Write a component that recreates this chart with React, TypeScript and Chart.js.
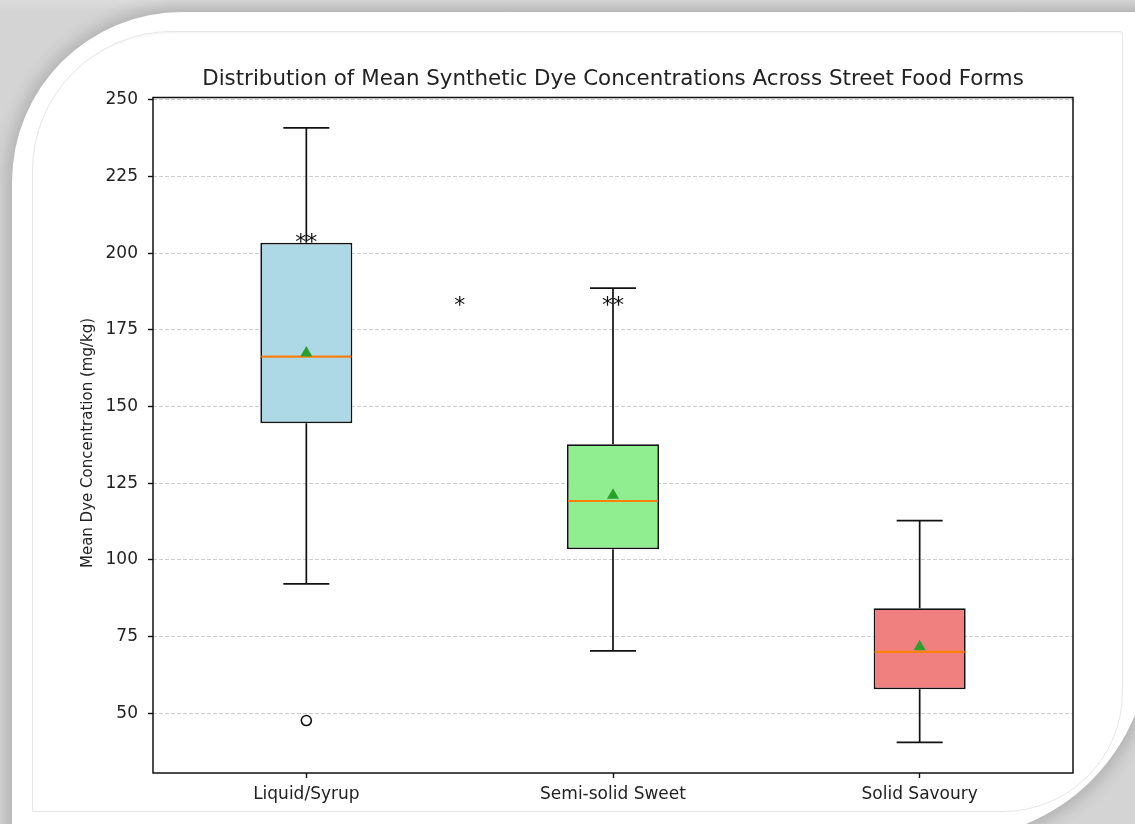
import React, { useEffect, useRef } from 'react';
import { Chart, registerables } from 'chart.js';

Chart.register(...registerables);

const categories = ['Liquid/Syrup', 'Semi-solid Sweet', 'Solid Savoury'];
const whiskerLow = [92.2, 70.3, 40.5];
const q1Values = [144.6, 103.5, 57.8];
const medianValues = [166.3, 119.2, 70.0];
const q3Values = [203.4, 137.7, 84.2];
const whiskerHigh = [240.9, 188.6, 112.8];
const meanValues = [167.5, 121.1, 71.7];
const outlierValues = [47.6, null, null];
const boxColors = ['#add8e6', '#90ee90', '#f08080'];
const yTickValues = [50, 75, 100, 125, 150, 175, 200, 225, 250];
const annotationPositions = [0, 0.5, 1];
const annotationValues = [204.3, 184.0, 184.0];
const annotationTexts = ['**', '*', '**'];
const yMin = 30.5;
const yMax = 250.8;
const chartTitle = 'Distribution of Mean Synthetic Dye Concentrations Across Street Food Forms';
const yAxisTitle = 'Mean Dye Concentration (mg/kg)';

const FONT = "'DejaVu Sans', sans-serif";
const TEXT = '#222';
const LINE_W = 1.7;

const boxPlugin = {
  id: 'boxExtras',
  beforeDatasetsDraw(chart: any) {
    const { ctx, scales } = chart;
    const x = scales.x;
    const y = scales.y;
    const meta = chart.getDatasetMeta(0);
    ctx.save();
    ctx.strokeStyle = '#111';
    ctx.lineWidth = LINE_W;
    categories.forEach((_, i) => {
      const bar = meta.data[i];
      const cx = x.getPixelForValue(i);
      const half = bar.width / 4;
      const segs = [
        [whiskerHigh[i], q3Values[i]],
        [whiskerLow[i], q1Values[i]],
      ];
      segs.forEach(([end, start]) => {
        const pe = y.getPixelForValue(end);
        const ps = y.getPixelForValue(start);
        ctx.beginPath();
        ctx.moveTo(cx, ps);
        ctx.lineTo(cx, pe);
        ctx.moveTo(cx - half, pe);
        ctx.lineTo(cx + half, pe);
        ctx.stroke();
      });
    });
    ctx.restore();
  },
  afterDatasetDraw(chart: any, args: any) {
    if (args.index !== 0) return;
    const { ctx, scales } = chart;
    const y = scales.y;
    const meta = chart.getDatasetMeta(0);
    ctx.save();
    ctx.strokeStyle = '#ff7f0e';
    ctx.lineWidth = 2.2;
    categories.forEach((_, i) => {
      const bar = meta.data[i];
      const py = y.getPixelForValue(medianValues[i]);
      ctx.beginPath();
      ctx.moveTo(bar.x - bar.width / 2 + 1, py);
      ctx.lineTo(bar.x + bar.width / 2 - 1, py);
      ctx.stroke();
    });
    ctx.restore();
  },
  afterDatasetsDraw(chart: any) {
    const { ctx, chartArea, scales } = chart;
    const x = scales.x;
    const y = scales.y;
    ctx.save();
    ctx.strokeStyle = '#111';
    ctx.lineWidth = 1.5;
    ctx.strokeRect(chartArea.left, chartArea.top, chartArea.right - chartArea.left, chartArea.bottom - chartArea.top);

    // significance markers
    ctx.fillStyle = '#111';
    const aSize = 22;
    ctx.font = `${aSize}px ${FONT}`;
    ctx.textAlign = 'center';
    ctx.textBaseline = 'alphabetic';
    annotationTexts.forEach((t, i) => {
      const px = x.getPixelForValue(annotationPositions[i]);
      const py = y.getPixelForValue(annotationValues[i]);
      ctx.fillText(t, px, py + 0.42 * aSize);
    });

    // title centred over the axes
    ctx.fillStyle = TEXT;
    ctx.font = `21.4px ${FONT}`;
    ctx.textBaseline = 'middle';
    ctx.fillText(chartTitle, (chartArea.left + chartArea.right) / 2, 79);

    // y axis label
    ctx.save();
    ctx.translate(88, 443);
    ctx.rotate(-Math.PI / 2);
    ctx.font = `15px ${FONT}`;
    ctx.fillText(yAxisTitle, 0, 0);
    ctx.restore();
    ctx.restore();
  },
};

export default function App() {
  const ref = useRef<HTMLCanvasElement | null>(null);
  useEffect(() => {
    if (!ref.current) return;
    const chart = new Chart(ref.current, {
      type: 'bar',
      data: {
        labels: categories,
        datasets: [
          {
            type: 'bar',
            label: 'IQR',
            data: categories.map((_, i) => [q1Values[i], q3Values[i]]) as any,
            backgroundColor: boxColors,
            borderColor: '#111',
            borderWidth: LINE_W,
            borderSkipped: false,
            barPercentage: 0.3,
            categoryPercentage: 1,
            order: 2,
          } as any,
          {
            type: 'line',
            label: 'Mean',
            data: meanValues,
            showLine: false,
            pointStyle: 'triangle',
            pointRadius: 7,
            pointBackgroundColor: '#2ca02c',
            pointBorderColor: '#2ca02c',
            pointBorderWidth: 0,
            order: 0,
          } as any,
          {
            type: 'line',
            label: 'Outliers',
            data: outlierValues,
            showLine: false,
            pointStyle: 'circle',
            pointRadius: 5,
            pointBackgroundColor: 'rgba(255,255,255,0)',
            pointBorderColor: '#111',
            pointBorderWidth: 1.6,
            order: 0,
          } as any,
        ],
      },
      options: {
        animation: false,
        responsive: false,
        layout: { padding: { left: 75, right: 62, top: 97.5, bottom: 11 } },
        plugins: {
          legend: { display: false },
          tooltip: { enabled: false },
          title: { display: false },
        },
        scales: {
          x: {
            type: 'category',
            offset: true,
            grid: {
              display: true,
              drawOnChartArea: false,
              drawTicks: true,
              tickLength: 5,
              tickColor: '#111',
              tickWidth: 1.4,
              offset: false,
            },
            border: { display: false },
            ticks: { font: { family: FONT, size: 17 }, color: TEXT, padding: 6, maxRotation: 0 },
            afterFit: (s: any) => {
              s.height = 40;
            },
          },
          y: {
            type: 'linear',
            min: yMin,
            max: yMax,
            afterBuildTicks: (s: any) => {
              s.ticks = yTickValues.map((v) => ({ value: v }));
            },
            grid: {
              color: 'rgba(176,176,176,0.65)',
              lineWidth: 1,
              tickLength: 5,
              tickColor: '#111',
              tickWidth: 1.4,
            },
            border: { display: false, dash: [4, 2] },
            ticks: { font: { family: FONT, size: 17 }, color: TEXT, padding: 10 },
            afterFit: (s: any) => {
              s.width = 78;
            },
          },
        },
      } as any,
      plugins: [boxPlugin],
    });
    return () => chart.destroy();
  }, []);

  return (
    <div
      style={{
        position: 'fixed',
        left: 0,
        top: 0,
        width: 1135,
        height: 824,
        overflow: 'hidden',
        background: 'linear-gradient(180deg, #dcdcdc 0px, #d4d4d4 11px)',
      }}
    >
      <div
        style={{
          position: 'absolute',
          left: 12,
          top: 12,
          width: 1138,
          height: 827,
          background: '#fff',
          borderRadius: '170px 0 200px 0',
          boxShadow: '0 0 16px 6px rgba(0,0,0,0.16)',
        }}
      />
      <div
        style={{
          position: 'absolute',
          left: 32,
          top: 31,
          width: 1089,
          height: 779,
          border: '1px solid #e6e6e6',
          borderRadius: '140px 3px 120px 0',
          boxShadow: 'inset 0 5px 3px -4px rgba(0,0,0,0.05)',
        }}
      />
      <canvas
        ref={ref}
        width={1135}
        height={824}
        style={{ position: 'absolute', left: 0, top: 0, width: 1135, height: 824 }}
      />
    </div>
  );
}
